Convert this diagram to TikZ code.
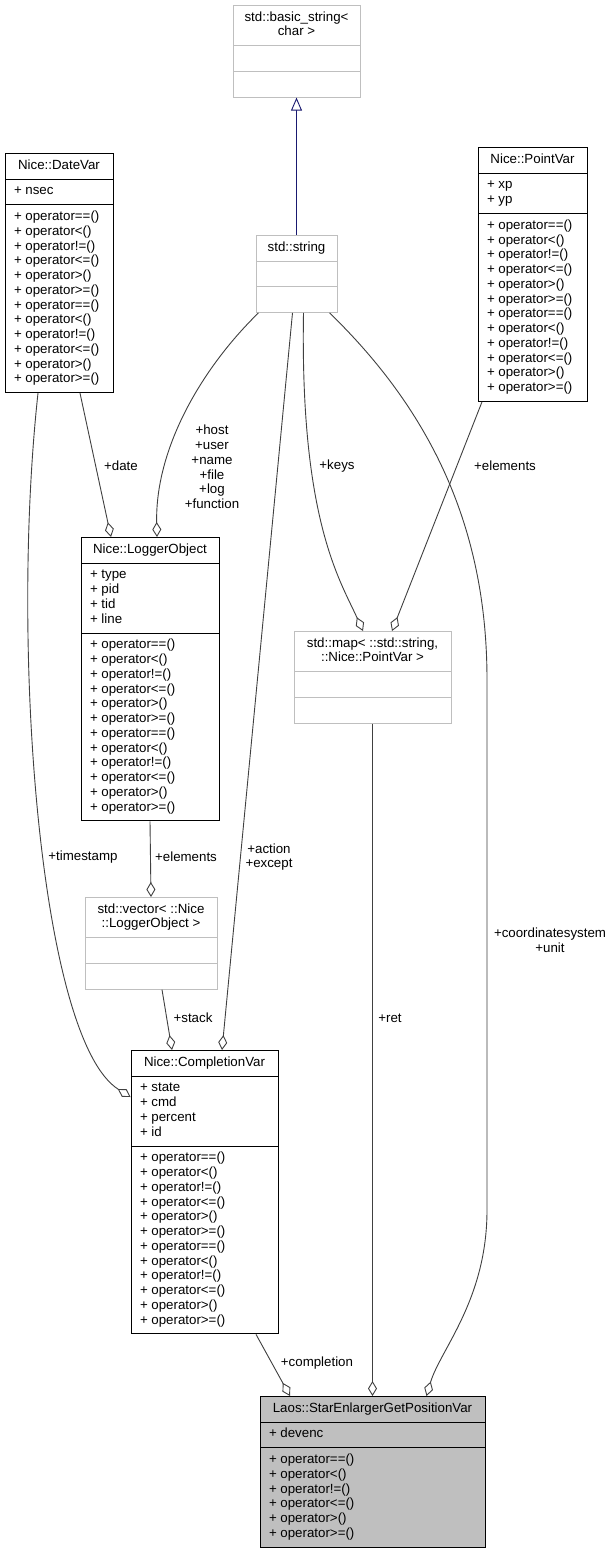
\documentclass[tikz,border=0pt]{standalone}
\usepackage{fontspec}
\setmainfont{Liberation Sans}
\usetikzlibrary{shapes.multipart,arrows.meta}

\definecolor{boxgray}{HTML}{BFBFBF}
\definecolor{edgegray}{HTML}{404040}
\definecolor{inhblue}{HTML}{191970}

\newcommand{\umlfont}{\fontsize{13.3}{14.75}\selectfont}
\newcommand{\clstitle}[1]{\begin{tabular}{@{}c@{}}#1\end{tabular}}
\newcommand{\clsrows}[1]{\begin{tabular}{@{}l@{}}#1\end{tabular}}
\newcommand{\nosec}{\rule[-4.4pt]{0pt}{14.75pt}}
\newcommand{\opsix}{+ operator==()\\+ operator<()\\+ operator!=()\\+ operator<=()\\+ operator>()\\+ operator>=()}

\begin{document}
\begin{tikzpicture}
		[x=1pt, y=-1pt,
		cls/.style={rectangle split, rectangle split parts=3, draw=black, fill=white, line width=0.9pt, font=\umlfont,
			inner xsep=9pt, inner ysep=5pt, rectangle split part align={center,left,left}, anchor=north},
		extcls/.style={cls, draw=boxgray},
		maincls/.style={cls, fill=boxgray},
		agg/.style={draw=edgegray, line width=0.9pt, -{Diamond[open, fill=white, length=15pt, width=9pt]}},
		inherit/.style={draw=inhblue, line width=0.9pt, -{Triangle[open, fill=white, length=13pt, width=11pt]}},
		role/.style={font=\umlfont, align=center, inner sep=0pt}]
		\path[fill=white, use as bounding box] (0,0) rectangle (614,1552);

		\node [extcls, minimum width=127pt] (bstr) at (296.5,5) {\clstitle{std::basic\_string<\\char >}\nodepart{two}\nosec\nodepart{three}\nosec};
		\node [extcls, minimum width=81pt] (str) at (296.5,235) {\clstitle{std::string}\nodepart{two}\nosec\nodepart{three}\nosec};
		\node [cls, minimum width=108pt] (date) at (59,153) {\clstitle{Nice::DateVar}\nodepart{two}\clsrows{+ nsec}\nodepart{three}\clsrows{\opsix\\\opsix}};
		\node [cls, minimum width=109pt] (point) at (532.5,147) {\clstitle{Nice::PointVar}\nodepart{two}\clsrows{+ xp\\+ yp}\nodepart{three}\clsrows{\opsix\\\opsix}};
		\node [cls, minimum width=138pt] (logger) at (150,537) {\clstitle{Nice::LoggerObject}\nodepart{two}\clsrows{+ type\\+ pid\\+ tid\\+ line}\nodepart{three}\clsrows{\opsix\\\opsix}};
		\node [extcls, minimum width=157pt] (map) at (372.5,631) {\clstitle{std::map< ::std::string,\\::Nice::PointVar >}\nodepart{two}\nosec\nodepart{three}\nosec};
		\node [extcls, minimum width=132pt] (vec) at (151,897) {\clstitle{std::vector< ::Nice\\::LoggerObject >}\nodepart{two}\nosec\nodepart{three}\nosec};
		\node [cls, minimum width=147pt] (cvar) at (204.5,1050) {\clstitle{Nice::CompletionVar}\nodepart{two}\clsrows{+ state\\+ cmd\\+ percent\\+ id}\nodepart{three}\clsrows{\opsix\\\opsix}};
		\node [maincls, minimum width=225pt] (laos) at (372.5,1396) {\clstitle{Laos::StarEnlargerGetPositionVar}\nodepart{two}\clsrows{+ devenc}\nodepart{three}\clsrows{\opsix}};

		% connectors
		\draw [inherit] (str.north) -- (bstr.south);
		\draw [agg] ([xshift=21pt]date.south) -- ([xshift=-39pt]logger.north);
		\draw [agg] ([xshift=-38pt]str.south) .. controls (200,370) and (155,450) .. ([xshift=7pt]logger.north);
		\draw [agg] ([xshift=-21pt]date.south) .. controls (10,650) and (40,1040) .. ([yshift=-47pt]cvar.north west);
		\draw [agg] ([xshift=-4pt]str.south) -- ([xshift=17.5pt]cvar.north);
		\draw [agg] (logger.south) -- (vec.north);
		\draw [agg] ([xshift=11pt]vec.south) -- ([xshift=-32.5pt]cvar.north);
		\draw [agg] ([xshift=7pt]str.south) .. controls (300,520) and (340,580) .. ([xshift=-9.5pt]map.north);
		\draw [agg] ([xshift=-50.5pt]point.south) -- ([xshift=19.5pt]map.north);
		\draw [agg] (map.south) -- (laos.north);
		\draw [agg] ([xshift=33pt]str.south) .. controls (440,420) and (487,540) .. (487,680) -- (487,1210)
			.. controls (487,1300) and (440,1350) .. ([xshift=54pt]laos.north);
		\draw [agg] ([xshift=51.5pt]cvar.south) -- ([xshift=-82.5pt]laos.north);

		% roles
		\node [role] (r-host) at (212,467) {+host\\+user\\+name\\+file\\+log\\+function};
		\node [role] (r-date) at (121,466) {+date};
		\node [role] (r-keys) at (337,466) {+keys};
		\node [role] (r-pts) at (505,466) {+elements};
		\node [role] (r-time) at (83,857) {+timestamp};
		\node [role] (r-logs) at (186,857) {+elements};
		\node [role] (r-act) at (269,857) {+action\\+except};
		\node [role] (r-coord) at (550,940) {+coordinatesystem\\+unit};
		\node [role] (r-stack) at (193,1018) {+stack};
		\node [role] (r-ret) at (390,1018) {+ret};
		\node [role] (r-comp) at (317,1363) {+completion};

	\end{tikzpicture}
\end{document}
